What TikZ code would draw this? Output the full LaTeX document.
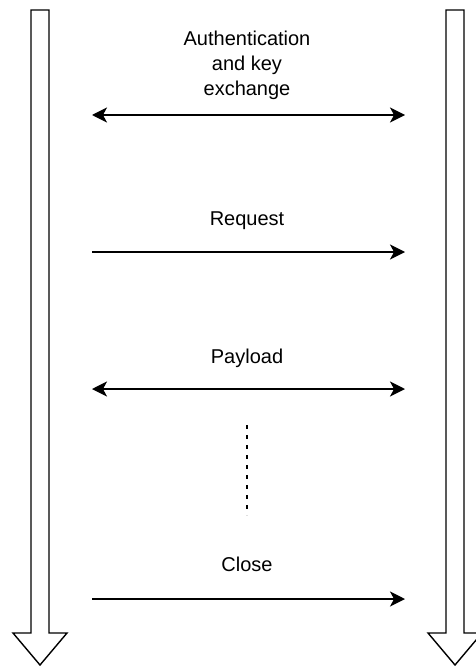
\documentclass[tikz,border=0pt]{standalone}
\usepackage{fontspec}
\setmainfont{Liberation Sans}
\usetikzlibrary{arrows.meta,positioning}

\begin{document}
\begin{tikzpicture}[x=1pt, y=-1pt, line width=1.4pt,
    msg/.style={-{Stealth[length=15pt,width=15pt,inset=4pt]}},
    bimsg/.style={{Stealth[length=15pt,width=15pt,inset=4pt]}-{Stealth[length=15pt,width=15pt,inset=4pt]}},
    lbl/.style={align=center, font=\fontsize{20}{25}\selectfont, inner sep=0pt}]
      \useasboundingbox (0, 0) rectangle (475, 666);

      % lifelines
      \draw (31, 10) -- (49, 10) -- (49, 633) -- (67, 633) -- (40, 665) -- (13, 633) -- (31, 633) -- cycle;
      \draw (446, 10) -- (464, 10) -- (464, 633) -- (482, 633) -- (455, 665) -- (428, 633) -- (446, 633) -- cycle;

      \coordinate (authL) at (92, 115);
      \coordinate (authR) at (405, 115);
      \coordinate (reqL) at (92, 252);
      \coordinate (reqR) at (405, 252);
      \coordinate (payL) at (92, 389);
      \coordinate (payR) at (405, 389);
      \coordinate (closeL) at (92, 599);
      \coordinate (closeR) at (405, 599);
      \coordinate (dotsT) at (247, 425);
      \coordinate (dotsB) at (247, 515);

      \node[lbl] (auth) at (247, 65) {Authentication\\and key\\exchange};
      \node[lbl] (req) at (247, 221) {Request};
      \node[lbl] (pay) at (247, 358) {Payload};
      \node[lbl] (close) at (247, 564) {Close};

      \draw[bimsg] (authL) -- (authR);
      \draw[msg] (reqL) -- (reqR);
      \draw[bimsg] (payL) -- (payR);
      \draw[msg] (closeL) -- (closeR);

      \draw[line width=1.3pt, dash pattern=on 4pt off 6pt] (dotsT) -- (dotsB);
\end{tikzpicture}
\end{document}
